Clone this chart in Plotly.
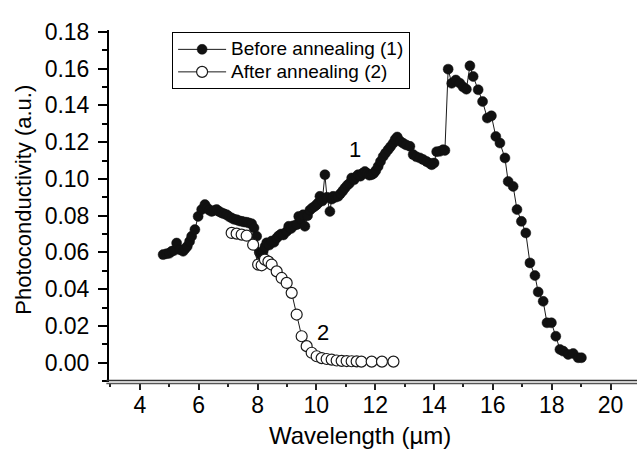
import plotly.graph_objects as go

# Before annealing (1) - filled circles
x_before = [4.79, 4.91, 5.00, 5.08, 5.16, 5.25, 5.36, 5.47, 5.54, 5.61, 5.69, 5.76, 5.87, 5.98,
            6.10, 6.21, 6.29, 6.36, 6.44, 6.52, 6.61, 6.70, 6.78, 6.86, 6.95, 7.03, 7.12, 7.20,
            7.29, 7.37, 7.46, 7.54, 7.63, 7.71, 7.80, 7.88, 7.97, 8.06, 8.12, 8.19, 8.25, 8.31,
            8.40, 8.48, 8.56, 8.65, 8.72, 8.80, 8.88, 8.99, 9.06, 9.14, 9.22, 9.33, 9.40, 9.48,
            9.55, 9.61, 9.70, 9.78, 9.86, 9.94, 10.01, 10.06, 10.12, 10.20, 10.29, 10.36, 10.46,
            10.52, 10.57, 10.65, 10.74, 10.82, 10.90, 10.97, 11.05, 11.12, 11.20, 11.28, 11.35,
            11.42, 11.50, 11.57, 11.65, 11.72, 11.80, 11.88, 11.95, 12.02, 12.10, 12.18, 12.27,
            12.35, 12.44, 12.52, 12.61, 12.68, 12.75, 12.85, 12.95, 13.05, 13.18, 13.29, 13.40,
            13.52, 13.63, 13.75, 13.85, 13.92, 14.00, 14.09, 14.20, 14.31, 14.37, 14.48, 14.60,
            14.74, 14.88, 14.99, 15.10, 15.22, 15.33, 15.50, 15.65, 15.81, 15.95, 16.10, 16.24,
            16.41, 16.52, 16.69, 16.82, 16.97, 17.12, 17.26, 17.43, 17.54, 17.71, 17.84, 17.99,
            18.14, 18.28, 18.39, 18.56, 18.73, 18.90, 19.01]
y_before = [0.0588, 0.0593, 0.0595, 0.0606, 0.0610, 0.0651, 0.0615, 0.0606, 0.0620, 0.0633, 0.0660,
            0.0688, 0.0724, 0.0796, 0.0833, 0.0860, 0.0842, 0.0830, 0.0823, 0.0828, 0.0833, 0.0822,
            0.0815, 0.0810, 0.0805, 0.0795, 0.0787, 0.0780, 0.0778, 0.0772, 0.0769, 0.0766, 0.0764,
            0.0760, 0.0756, 0.0733, 0.0688, 0.0600, 0.0585, 0.0605, 0.0630, 0.0652, 0.0640, 0.0662,
            0.0655, 0.0678, 0.0690, 0.0700, 0.0695, 0.0714, 0.0742, 0.0730, 0.0745, 0.0751, 0.0796,
            0.0780, 0.0805, 0.0742, 0.0800, 0.0830, 0.0842, 0.0850, 0.0860, 0.0869, 0.0905, 0.0880,
            0.1023, 0.0900, 0.0823, 0.0890, 0.0905, 0.0900, 0.0905, 0.0920, 0.0935, 0.0950, 0.0965,
            0.0975, 0.1005, 0.0995, 0.1010, 0.1023, 0.1015, 0.1030, 0.1040, 0.1030, 0.1020, 0.1023,
            0.1030, 0.1045, 0.1068, 0.1095, 0.1122, 0.1140, 0.1159, 0.1175, 0.1194, 0.1215, 0.1228,
            0.1205, 0.1194, 0.1185, 0.1177, 0.1132, 0.1120, 0.1114, 0.1105, 0.1094, 0.1085, 0.1077,
            0.1086, 0.1148, 0.1150, 0.1159, 0.1155, 0.1597, 0.1520, 0.1538, 0.1520, 0.1500, 0.1488,
            0.1615, 0.1557, 0.1485, 0.1421, 0.1331, 0.1343, 0.1231, 0.1195, 0.1114, 0.0986, 0.0959,
            0.0833, 0.0769, 0.0706, 0.0543, 0.0474, 0.0385, 0.0334, 0.0217, 0.0217, 0.0144, 0.0072,
            0.0063, 0.0045, 0.0050, 0.0027, 0.0027]

# After annealing (2) - open circles
x_after = [7.12, 7.29, 7.46, 7.63, 7.85, 8.02, 8.14, 8.25, 8.37, 8.48, 8.65, 8.82, 8.99, 9.16,
           9.33, 9.50, 9.67, 9.84, 10.01, 10.18, 10.35, 10.52, 10.69, 10.86, 11.03, 11.20, 11.37,
           11.53, 11.88, 12.23, 12.62]
y_after = [0.0706, 0.0702, 0.0697, 0.0691, 0.0642, 0.0534, 0.0530, 0.0561, 0.0550, 0.0534, 0.0497,
           0.0461, 0.0434, 0.0380, 0.0262, 0.0144, 0.0090, 0.0054, 0.0035, 0.0025, 0.0020, 0.0017,
           0.0012, 0.0010, 0.0009, 0.0008, 0.0007, 0.0006, 0.0006, 0.0006, 0.0006]

x_ticks = [4, 6, 8, 10, 12, 14, 16, 18, 20]
y_ticks = [0.00, 0.02, 0.04, 0.06, 0.08, 0.10, 0.12, 0.14, 0.16, 0.18]
series_names = ["Before annealing (1)", "After annealing (2)"]

FONT = "Liberation Sans, Arial, Helvetica, sans-serif"

def legend_label(s):
    return f'<span style="font-size:19px">{s}</span>'

fig = go.Figure()
fig.add_trace(go.Scatter(
    x=x_before, y=y_before, mode="lines+markers", name=legend_label(series_names[0]),
    line=dict(color="#1a1a1a", width=1),
    marker=dict(symbol="circle", size=10, color="#111111", line=dict(color="#111111", width=0.5)),
))
fig.add_trace(go.Scatter(
    x=x_after, y=y_after, mode="lines+markers", name=legend_label(series_names[1]),
    line=dict(color="#1a1a1a", width=1),
    marker=dict(symbol="circle", size=11, color="white", line=dict(color="#1a1a1a", width=1.2)),
))

fig.update_layout(
    width=644, height=450,
    margin=dict(l=109, r=7, t=30, b=67.5),
    paper_bgcolor="white", plot_bgcolor="white",
    font=dict(family=FONT, color="black", size=22),
    showlegend=True,
    legend=dict(
        x=0.1195, y=0.994, xanchor="left", yanchor="top",
        bordercolor="black", borderwidth=1, bgcolor="white",
        font=dict(family=FONT, size=15, color="black"),
        itemwidth=48, tracegroupgap=0,
    ),
    xaxis=dict(
        range=[2.95, 20.9], tickvals=x_ticks, ticktext=[str(v) for v in x_ticks],
        showline=False, showgrid=False, zeroline=False,
        ticks="outside", ticklen=7, tickwidth=1.5, tickcolor="#222",
        ticklabelstandoff=-5,
        tickfont=dict(family=FONT, size=23, color="black"),
        minor=dict(ticks="outside", dtick=1, tick0=3, ticklen=4, tickwidth=1.5, tickcolor="#222", showgrid=False),
    ),
    yaxis=dict(
        range=[-0.0105, 0.181], tickvals=y_ticks, ticktext=[f"{v:.2f}" for v in y_ticks],
        showline=True, linecolor="black", linewidth=2, showgrid=False, zeroline=False,
        ticks="outside", ticklen=9, tickwidth=1.5, tickcolor="black",
        ticklabelstandoff=4,
        tickfont=dict(family=FONT, size=23, color="black"),
        minor=dict(ticks="outside", dtick=0.01, tick0=0, ticklen=5, tickwidth=1.5, tickcolor="black", showgrid=False),
    ),
)

# double x-axis line
fig.add_shape(type="line", xref="paper", yref="paper", x0=-0.005, x1=1.0, y0=0, y1=0,
              ysizemode="pixel", yanchor=0, line=dict(color="#333", width=1.6))
fig.add_shape(type="line", xref="paper", yref="paper", x0=-0.005, x1=1.0, y0=0, y1=0,
              ysizemode="pixel", yanchor=0, line=dict(color="#555", width=1.6))
fig.layout.shapes[0].update(y0=1.5, y1=1.5)
fig.layout.shapes[1].update(y0=-1.5, y1=-1.5)

# axis titles
fig.add_annotation(text="Wavelength (µm)", xref="paper", yref="paper", x=0.475, y=-0.152,
                   showarrow=False, font=dict(family=FONT, size=24, color="black"),
                   xanchor="center", yanchor="middle")
fig.add_annotation(text="Photoconductivity (a.u.)", xref="paper", yref="paper", x=-0.161, y=0.518,
                   showarrow=False, textangle=-90, font=dict(family=FONT, size=22, color="black"),
                   xanchor="center", yanchor="middle")

# curve labels
fig.add_annotation(text="1", x=11.31, y=0.1159, showarrow=False,
                   font=dict(family=FONT, size=22, color="black"))
fig.add_annotation(text="2", x=10.23, y=0.0162, showarrow=False,
                   font=dict(family=FONT, size=22, color="black"))

fig.write_html("out.html")
